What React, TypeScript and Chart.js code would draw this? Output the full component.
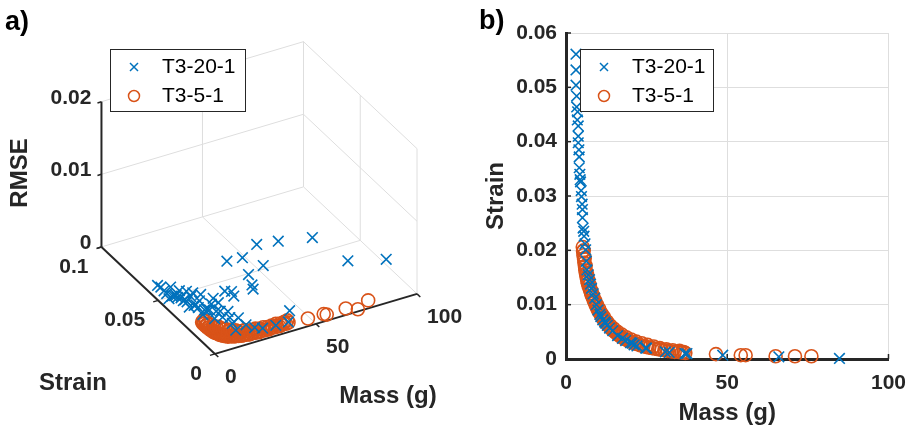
import React, { useEffect, useRef } from "react";
import { Chart, registerables } from "chart.js";

Chart.register(...registerables);

// ---------------- data ----------------
const SERIES_NAMES = ["T3-20-1", "T3-5-1"];

// T3-20-1 (blue crosses)
const massA = [3.1, 3.1, 3.1, 3.3, 3.3, 3.5, 3.8, 3.8, 3.8, 4.1, 4.1, 4.3, 4.5, 4.8, 5.1, 5.1, 5.3, 5.6, 6.1, 6.3, 6.5, 7.3, 7.9, 8.9, 9.9, 10.5, 11.4, 12.0, 12.8, 13.5, 16.0, 17.5, 18.5, 20.0, 20.5, 21.1, 22.0, 24.7, 25.0, 30.8, 32.0, 36.9, 37.5, 48.6, 66.0, 84.8,
  3.6, 4.0, 4.4, 4.7, 5.0, 5.5, 5.9, 6.9, 7.6, 8.4, 9.4, 10.8, 12.3, 14.5];
const strainA = [0.0561, 0.0532, 0.0504, 0.0484, 0.0464, 0.0440, 0.0429, 0.0410, 0.0398, 0.0372, 0.0352, 0.0340, 0.0326, 0.0299, 0.0275, 0.0260, 0.0241, 0.0226, 0.0201, 0.0180, 0.0164, 0.0146, 0.0130, 0.0112, 0.0090, 0.0082, 0.0072, 0.0068, 0.0062, 0.0057, 0.0043, 0.0038, 0.0034, 0.0030, 0.0029, 0.0026, 0.0024, 0.0020, 0.0020, 0.0013, 0.0012, 0.0010, 0.0010, 0.0007, 0.0004, 0.0001,
  0.0455, 0.0385, 0.0330, 0.0310, 0.0285, 0.0235, 0.0212, 0.0155, 0.0138, 0.0120, 0.0100, 0.0078, 0.0066, 0.0052];
const rmseA = [0.0009, 0.0011, 0.0010, 0.0009, 0.0005, 0.0012, 0.0014, 0.0017, 0.0016, 0.0019, 0.0018, 0.0021, 0.0020, 0.0031, 0.0022, 0.0025, 0.0024, 0.0044, 0.0026, 0.0029, 0.0031, 0.0049, 0.0033, 0.0035, 0.0065, 0.0107, 0.0030, 0.0066, 0.0060, 0.0013, 0.0113, 0.0020, 0.0089, 0.0074, 0.0068, 0.0015, 0.0129, 0.0012, 0.0098, 0.0012, 0.0127, 0.0012, 0.0027, 0.0119, 0.0073, 0.0060,
  0.0022, 0.0027, 0.0034, 0.0015, 0.0038, 0.0034, 0.0018, 0.0040, 0.0022, 0.0046, 0.0028, 0.0038, 0.0022, 0.0030];

// T3-5-1 (orange circles)
const massB = [5.2, 5.3, 5.4, 5.6, 5.7, 5.9, 6.0, 6.2, 6.4, 6.6, 6.8, 7.0, 7.3, 7.5, 7.8, 8.0, 8.3, 8.6, 8.9, 9.2, 9.5, 9.8, 10.1, 10.5, 10.9, 11.3, 11.7, 12.1, 12.6, 13.1, 13.6, 14.1, 14.7, 15.3, 15.9, 16.5, 17.1, 17.8, 18.5, 19.2, 19.9, 20.7, 21.5, 22.3, 23.1, 24.0, 24.9, 25.8, 26.7, 27.6, 28.6, 29.6, 30.6, 31.6, 32.6, 33.7, 34.8, 35.9, 37.0, 46.5, 54.2, 55.7, 65.0, 71.0, 76.1,
  5.5, 5.8, 6.1, 6.5, 6.9, 7.4, 7.9, 8.4, 9.0, 9.6, 10.3, 11.0, 11.8, 12.7, 13.7, 14.8, 16.0, 17.3, 18.7, 20.2, 21.8, 23.5, 25.3, 27.2, 29.1, 31.1, 33.1, 35.2, 36.5];
const strainB = [0.0206, 0.0198, 0.0191, 0.0184, 0.0177, 0.0170, 0.0163, 0.0157, 0.0150, 0.0144, 0.0139, 0.0135, 0.0130, 0.0126, 0.0121, 0.0117, 0.0113, 0.0108, 0.0104, 0.0100, 0.0096, 0.0092, 0.0088, 0.0084, 0.0080, 0.0076, 0.0072, 0.0069, 0.0065, 0.0062, 0.0058, 0.0055, 0.0052, 0.0049, 0.0046, 0.0043, 0.0041, 0.0038, 0.0036, 0.0034, 0.0032, 0.0030, 0.0028, 0.0027, 0.0025, 0.0024, 0.0022, 0.0021, 0.0020, 0.0019, 0.0018, 0.0017, 0.0016, 0.0015, 0.0014, 0.0013, 0.0013, 0.0012, 0.0011, 0.0009, 0.0007, 0.0007, 0.0005, 0.0005, 0.0005,
  0.0200, 0.0186, 0.0172, 0.0158, 0.0146, 0.0136, 0.0126, 0.0117, 0.0108, 0.0100, 0.0092, 0.0084, 0.0077, 0.0069, 0.0062, 0.0056, 0.0050, 0.0045, 0.0040, 0.0036, 0.0032, 0.0029, 0.0026, 0.0023, 0.0020, 0.0018, 0.0016, 0.0015, 0.0013];
const rmseB = [0.0009, 0.0008, 0.0009, 0.0007, 0.0008, 0.0006, 0.0007, 0.0006, 0.0005, 0.0006, 0.0005, 0.0004, 0.0005, 0.0004, 0.0005, 0.0004, 0.0003, 0.0004, 0.0003, 0.0004, 0.0003, 0.0004, 0.0003, 0.0004, 0.0003, 0.0004, 0.0005, 0.0004, 0.0005, 0.0004, 0.0005, 0.0006, 0.0005, 0.0006, 0.0005, 0.0006, 0.0007, 0.0006, 0.0007, 0.0006, 0.0007, 0.0008, 0.0007, 0.0008, 0.0007, 0.0008, 0.0009, 0.0008, 0.0009, 0.0008, 0.0009, 0.0010, 0.0009, 0.0010, 0.0009, 0.0010, 0.0011, 0.0010, 0.0011, 0.0009, 0.0009, 0.0007, 0.0008, 0.0002, 0.0010,
  0.0012, 0.0013, 0.0011, 0.0012, 0.0010, 0.0012, 0.0011, 0.0013, 0.0012, 0.0011, 0.0012, 0.0010, 0.0012, 0.0011, 0.0012, 0.0010, 0.0011, 0.0012, 0.0010, 0.0011, 0.0012, 0.0011, 0.0012, 0.0011, 0.0012, 0.0013, 0.0012, 0.0013, 0.0014];

const MASS_TICKS = [0, 50, 100];
const STRAIN_TICKS_3D = [0, 0.05, 0.1];
const RMSE_TICKS = [0, 0.01, 0.02];
const STRAIN_TICKS_2D = [0, 0.01, 0.02, 0.03, 0.04, 0.05, 0.06];

// ---------------- style ----------------
const BLUE = "#0072BD";
const ORANGE = "#D95319";
const AXIS = "#262626";
const GRID = "#dedede";
const FONT = '"Liberation Sans", Arial, Helvetica, sans-serif';

const W_L = 480;
const X_R = 460;
const W_R = 458;
const H = 431;

// orthographic view of the 3D box (pixel offsets per data unit)
const ORIGIN = { x: 214, y: 360 };
const V_MASS = { x: 2.1, y: -0.627 };
const V_STRAIN = { x: -1180, y: -1117 };
const V_RMSE = { x: 0, y: -7580 };

function project(m: number, s: number, r: number) {
  return {
    x: ORIGIN.x + m * V_MASS.x + s * V_STRAIN.x + r * V_RMSE.x,
    y: ORIGIN.y + m * V_MASS.y + s * V_STRAIN.y + r * V_RMSE.y,
  };
}

const fmt = (v: number) => {
  const n = Math.round(v * 1000) / 1000;
  return n === 0 ? "0" : String(n);
};

function drawText(ctx: CanvasRenderingContext2D, s: string, x: number, y: number, size: number, bold: boolean, align: CanvasTextAlign, rot = 0, color = AXIS) {
  ctx.save();
  ctx.font = `${bold ? "bold " : ""}${size}px ${FONT}`;
  ctx.fillStyle = color;
  ctx.textAlign = align;
  ctx.textBaseline = "middle";
  ctx.translate(x, y);
  if (rot) ctx.rotate(rot);
  ctx.fillText(s, 0, 0);
  ctx.restore();
}

function drawCross(ctx: CanvasRenderingContext2D, x: number, y: number, h: number) {
  ctx.beginPath();
  ctx.moveTo(x - h, y - h);
  ctx.lineTo(x + h, y + h);
  ctx.moveTo(x - h, y + h);
  ctx.lineTo(x + h, y - h);
  ctx.stroke();
}

function drawLegend(ctx: CanvasRenderingContext2D, x: number, y: number, w: number, h: number, mx: number, tx: number) {
  ctx.save();
  ctx.fillStyle = "#ffffff";
  ctx.fillRect(x, y, w, h);
  ctx.strokeStyle = AXIS;
  ctx.lineWidth = 1;
  ctx.strokeRect(x + 0.5, y + 0.5, w, h);
  const y1 = y + 18;
  const y2 = y + 47;
  ctx.lineWidth = 1.5;
  ctx.strokeStyle = BLUE;
  drawCross(ctx, mx, y1, 4);
  ctx.strokeStyle = ORANGE;
  ctx.beginPath();
  ctx.arc(mx, y2, 5.5, 0, Math.PI * 2);
  ctx.stroke();
  drawText(ctx, SERIES_NAMES[0], tx, y1, 21, false, "left", 0, "#000");
  drawText(ctx, SERIES_NAMES[1], tx, y2, 21, false, "left", 0, "#000");
  ctx.restore();
}

const M_MAX = MASS_TICKS[MASS_TICKS.length - 1];
const S_MAX = STRAIN_TICKS_3D[STRAIN_TICKS_3D.length - 1];
const R_MAX = RMSE_TICKS[RMSE_TICKS.length - 1];

const box3dPlugin = {
  id: "box3d",
  beforeDatasetsDraw(chart: any) {
    const ctx: CanvasRenderingContext2D = chart.ctx;
    const sx = chart.scales.x;
    const sy = chart.scales.y;
    const P = (m: number, s: number, r: number) => {
      const p = project(m, s, r);
      return [sx.getPixelForValue(p.x), sy.getPixelForValue(p.y)];
    };
    const seg = (a: number[], b: number[], color: string, w: number) => {
      ctx.strokeStyle = color;
      ctx.lineWidth = w;
      ctx.beginPath();
      ctx.moveTo(a[0], a[1]);
      ctx.lineTo(b[0], b[1]);
      ctx.stroke();
    };
    ctx.save();
    // grid: floor, back wall (strain = max), side wall (mass = max)
    MASS_TICKS.filter((m) => m > 0).forEach((m) => {
      seg(P(m, 0, 0), P(m, S_MAX, 0), GRID, 1);
      seg(P(m, S_MAX, 0), P(m, S_MAX, R_MAX), GRID, 1);
    });
    STRAIN_TICKS_3D.forEach((s) => {
      if (s > 0) seg(P(0, s, 0), P(M_MAX, s, 0), GRID, 1);
      seg(P(M_MAX, s, 0), P(M_MAX, s, R_MAX), GRID, 1);
    });
    RMSE_TICKS.filter((r) => r > 0).forEach((r) => {
      seg(P(0, S_MAX, r), P(M_MAX, S_MAX, r), GRID, 1);
      seg(P(M_MAX, S_MAX, r), P(M_MAX, 0, r), GRID, 1);
    });
    // axes
    seg(P(0, S_MAX, 0), P(0, S_MAX, R_MAX), AXIS, 2);
    seg(P(0, 0, 0), P(0, S_MAX, 0), AXIS, 2);
    seg(P(0, 0, 0), P(M_MAX, 0, 0), AXIS, 2);
    // ticks
    RMSE_TICKS.forEach((r) => {
      const a = P(0, S_MAX, r);
      seg(a, [a[0] - 4, a[1] + 1.2], AXIS, 1.5);
      drawText(ctx, fmt(r), a[0] - 10, a[1] - 4, 21, true, "right");
    });
    STRAIN_TICKS_3D.forEach((s) => {
      const a = P(0, s, 0);
      seg(a, [a[0] - 5, a[1] + 1.5], AXIS, 1.5);
      drawText(ctx, fmt(s), a[0] - 13, a[1] + 20, 21, true, "right");
    });
    MASS_TICKS.forEach((m) => {
      const a = P(m, 0, 0);
      seg(a, [a[0] + 3.3, a[1] + 3.1], AXIS, 1.5);
      drawText(ctx, fmt(m), a[0] + 10, a[1] + 23, 21, true, "left");
    });
    // titles
    drawText(ctx, "RMSE", 20, 173, 24, true, "center", -Math.PI / 2);
    drawText(ctx, "Strain", 73, 383, 24, true, "center");
    drawText(ctx, "Mass (g)", 388, 396, 24, true, "center");
    // panel label
    ctx.font = `bold 27px ${FONT}`;
    ctx.fillStyle = "#000";
    ctx.textAlign = "left";
    ctx.textBaseline = "alphabetic";
    ctx.fillText("a)", 5, 30);
    ctx.restore();
  },
  afterDatasetsDraw(chart: any) {
    drawLegend(chart.ctx, 110, 49, 135, 62, 134, 162);
  },
};

const frame2dPlugin = {
  id: "frame2d",
  afterDraw(chart: any) {
    const ctx: CanvasRenderingContext2D = chart.ctx;
    const { left, bottom } = chart.chartArea;
    const sx = chart.scales.x;
    const sy = chart.scales.y;
    ctx.save();
    ctx.strokeStyle = AXIS;
    ctx.lineWidth = 1.5;
    STRAIN_TICKS_2D.forEach((s) => {
      const y = sy.getPixelForValue(s);
      ctx.beginPath();
      ctx.moveTo(left, y);
      ctx.lineTo(left + 5, y);
      ctx.stroke();
    });
    MASS_TICKS.forEach((m) => {
      const x = sx.getPixelForValue(m);
      ctx.beginPath();
      ctx.moveTo(x, bottom);
      ctx.lineTo(x, bottom - 5);
      ctx.stroke();
    });
    drawLegend(ctx, 120, 49, 133, 62, 144, 172);
    ctx.font = `bold 27px ${FONT}`;
    ctx.fillStyle = "#000";
    ctx.textAlign = "left";
    ctx.textBaseline = "alphabetic";
    ctx.fillText("b)", 19, 29);
    ctx.restore();
  },
};

const blueStyle = {
  pointStyle: "crossRot",
  pointRadius: 7.5,
  borderColor: BLUE,
  backgroundColor: BLUE,
  borderWidth: 1.6,
  clip: false as any,
};
const orangeStyle = {
  pointStyle: "circle",
  pointRadius: 6.5,
  borderColor: ORANGE,
  backgroundColor: "rgba(0,0,0,0)",
  borderWidth: 1.6,
  clip: false as any,
};

export default function App() {
  const leftRef = useRef<HTMLCanvasElement>(null);
  const rightRef = useRef<HTMLCanvasElement>(null);

  useEffect(() => {
    const common = {
      responsive: false,
      animation: false as const,
      events: [] as any[],
    };

    const left = new Chart(leftRef.current!, {
      type: "scatter",
      data: {
        datasets: [
          { label: SERIES_NAMES[0], data: massA.map((m, i) => project(m, strainA[i], rmseA[i])), ...blueStyle } as any,
          { label: SERIES_NAMES[1], data: massB.map((m, i) => project(m, strainB[i], rmseB[i])), ...orangeStyle } as any,
        ],
      },
      options: {
        ...common,
        layout: { padding: 0 },
        plugins: { legend: { display: false }, tooltip: { enabled: false } },
        scales: {
          x: { type: "linear", display: false, min: 0, max: W_L },
          y: { type: "linear", display: false, min: 0, max: H, reverse: true },
        },
      },
      plugins: [box3dPlugin],
    });

    const right = new Chart(rightRef.current!, {
      type: "scatter",
      data: {
        datasets: [
          { label: SERIES_NAMES[0], data: massA.map((m, i) => ({ x: m, y: strainA[i] })), ...blueStyle } as any,
          { label: SERIES_NAMES[1], data: massB.map((m, i) => ({ x: m, y: strainB[i] })), ...orangeStyle } as any,
        ],
      },
      options: {
        ...common,
        layout: { padding: { left: 0, right: 25, top: 33, bottom: 0 } },
        plugins: { legend: { display: false }, tooltip: { enabled: false } },
        scales: {
          x: {
            type: "linear",
            min: MASS_TICKS[0],
            max: MASS_TICKS[MASS_TICKS.length - 1],
            afterBuildTicks: (s: any) => {
              s.ticks = MASS_TICKS.map((v) => ({ value: v }));
            },
            ticks: {
              callback: (v: any) => fmt(Number(v)),
              font: { family: FONT, size: 21, weight: "bold" },
              color: AXIS,
              padding: 12,
              maxRotation: 0,
            },
            grid: { color: GRID, lineWidth: 1, drawTicks: false },
            border: { color: AXIS, width: 3 },
            title: {
              display: true,
              text: "Mass (g)",
              font: { family: FONT, size: 24, weight: "bold" },
              color: AXIS,
              padding: { top: 0, bottom: 3 },
            },
            afterFit: (s: any) => {
              s.height = 72;
            },
          },
          y: {
            type: "linear",
            min: STRAIN_TICKS_2D[0],
            max: STRAIN_TICKS_2D[STRAIN_TICKS_2D.length - 1],
            afterBuildTicks: (s: any) => {
              s.ticks = STRAIN_TICKS_2D.map((v) => ({ value: v }));
            },
            ticks: {
              callback: (v: any) => fmt(Number(v)),
              font: { family: FONT, size: 21, weight: "bold" },
              color: AXIS,
              padding: 9,
            },
            grid: { color: GRID, lineWidth: 1, drawTicks: false },
            border: { color: AXIS, width: 3 },
            title: {
              display: true,
              text: "Strain",
              font: { family: FONT, size: 24, weight: "bold" },
              color: AXIS,
              padding: { top: 22, bottom: 0 },
            },
            afterFit: (s: any) => {
              s.width = 106;
            },
          },
        },
      },
      plugins: [frame2dPlugin],
    });

    return () => {
      left.destroy();
      right.destroy();
    };
  }, []);

  return (
    <div style={{ position: "absolute", left: 0, top: 0, width: 918, height: H, background: "#ffffff", overflow: "hidden" }}>
      <canvas ref={leftRef} width={W_L} height={H} style={{ position: "absolute", left: 0, top: 0, width: W_L, height: H }} />
      <canvas ref={rightRef} width={W_R} height={H} style={{ position: "absolute", left: X_R, top: 0, width: W_R, height: H }} />
    </div>
  );
}
